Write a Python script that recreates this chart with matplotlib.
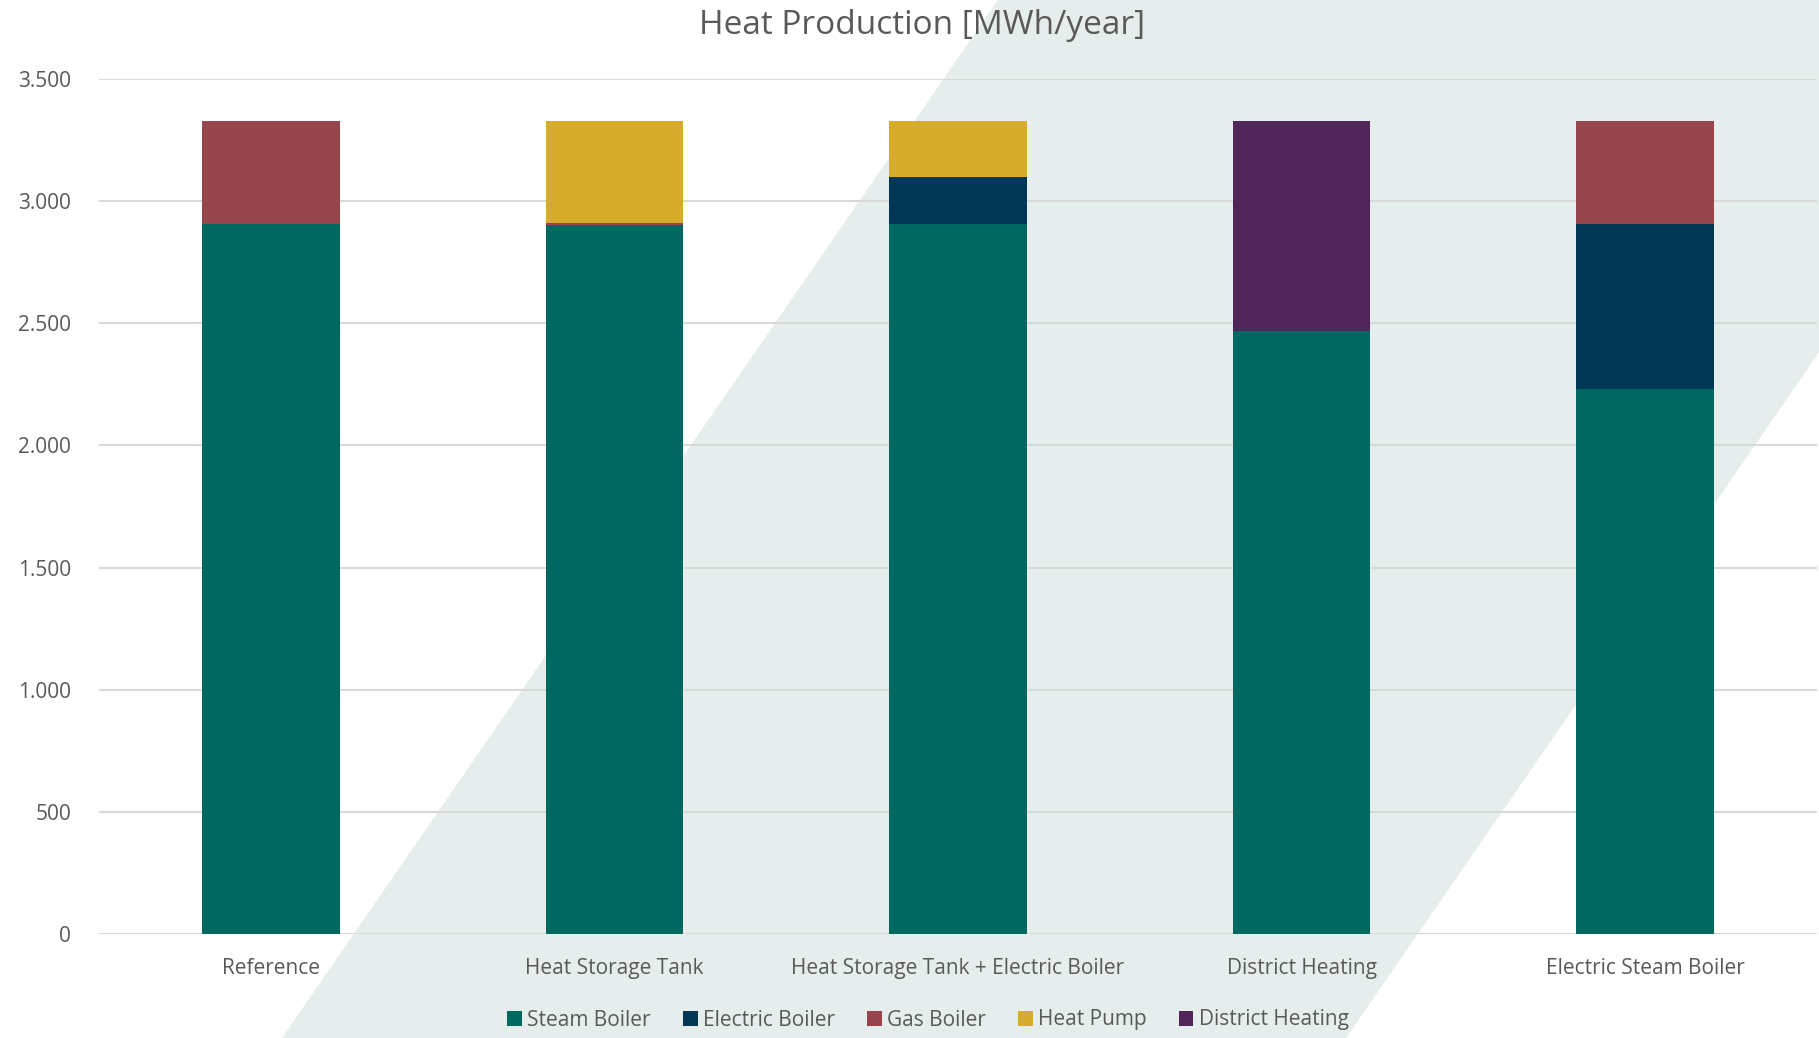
import numpy as np
import matplotlib.pyplot as plt
from matplotlib.patches import Polygon, Patch
from matplotlib.ticker import FuncFormatter

plt.rcParams['font.family'] = ['Open Sans', 'DejaVu Sans']

# Scenarios and heat production per technology [MWh/year]
scenarios = ['Reference', 'Heat Storage Tank', 'Heat Storage Tank + Electric Boiler',
             'District Heating', 'Electric Steam Boiler']
steam_boiler = [2905, 2903, 2905, 2468, 2233]
electric_boiler = [0, 0, 192, 0, 673]
gas_boiler = [425, 7, 0, 0, 424]
heat_pump = [0, 420, 233, 0, 0]
district_heating = [0, 0, 0, 862, 0]

series_names = ['Steam Boiler', 'Electric Boiler', 'Gas Boiler', 'Heat Pump', 'District Heating']
series_values = [steam_boiler, electric_boiler, gas_boiler, heat_pump, district_heating]
colors = ['#00685E', '#003755', '#96464C', '#D6AD2B', '#50265A']

text_color = '#595959'
grid_color = '#D9D9D9'
band_color = '#E5EEED'

W, H = 1819, 1038
fig = plt.figure(figsize=(W / 100, H / 100), dpi=100)

# Decorative diagonal band in the background (figure pixel coords)
def fpt(x, y):
    return (x / W, 1 - y / H)

band = Polygon([fpt(282, 1038), fpt(998, 0), fpt(2062, 0), fpt(1346, 1038)],
               closed=True, transform=fig.transFigure, facecolor=band_color,
               edgecolor='none', zorder=-10)
fig.patches.append(band)

ax = fig.add_axes([99 / W, 1 - 934 / H, (1817 - 99) / W, (934 - 79) / H])
ax.patch.set_alpha(0)

x = np.arange(len(scenarios))
bottom = np.zeros(len(scenarios))
for name, vals, c in zip(series_names, series_values, colors):
    vals = np.array(vals, dtype=float)
    ax.bar(x, vals, width=0.4, bottom=bottom, color=c, label=name, zorder=3)
    bottom += vals

ax.set_xlim(-0.5, len(scenarios) - 0.5)
ax.set_ylim(0, 3500)
ax.set_yticks(np.arange(0, 3501, 500))
ax.yaxis.set_major_formatter(FuncFormatter(lambda v, p: f'{int(v):,}'.replace(',', '.')))
ax.grid(axis='y', color=grid_color, linewidth=1.5, zorder=0)
ax.set_axisbelow(True)

for s in ax.spines.values():
    s.set_visible(False)

ax.tick_params(axis='y', length=0, pad=20, labelsize=15, labelcolor=text_color)
ax.tick_params(axis='x', length=0, pad=17, labelsize=15, labelcolor=text_color)
ax.set_xticks(x)
ax.set_xticklabels(scenarios)

fig.text(922 / W, 1 - 25 / H, 'Heat Production [MWh/year]', ha='center', va='center',
         fontsize=24, color=text_color)

handles = [Patch(facecolor=c, edgecolor='none') for c in colors]
leg = fig.legend(handles, series_names, loc='center', bbox_to_anchor=(928 / W, 1 - 1020 / H),
                 ncol=5, frameon=False, fontsize=15, handlelength=0.7, handleheight=0.7,
                 handletextpad=0.25, columnspacing=1.55, labelcolor=text_color)

fig.savefig('out.png', dpi=100)
